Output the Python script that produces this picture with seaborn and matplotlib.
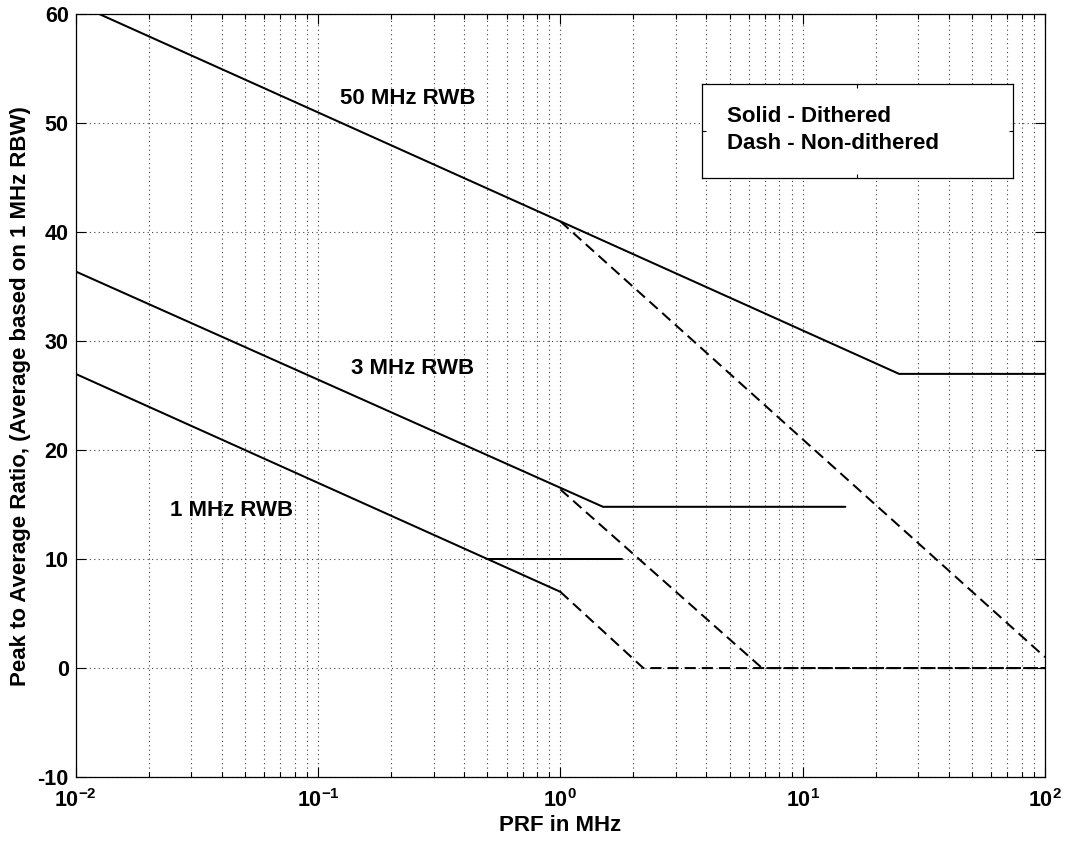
import matplotlib
matplotlib.use("Agg")
import matplotlib.pyplot as plt
import seaborn as sns
import numpy as np
from matplotlib.ticker import FixedLocator, FixedFormatter, LogLocator, NullFormatter

# ---- data ----
x50_solid = [0.01, 1.0, 25.0, 100.0]
y50_solid = [61.0, 41.0, 27.0, 27.0]
x50_dash = [1.0, 100.0]
y50_dash = [41.0, 1.0]

x3_solid = [0.01, 1.5, 15.0]
y3_solid = [36.4, 14.8, 14.8]
x3_dash = [1.0, 6.8, 100.0]
y3_dash = [16.4, 0.0, 0.0]

x1_solid = [0.01, 1.0]
y1_solid = [27.0, 7.0]
x1_flat = [0.5, 1.8]
y1_flat = [10.0, 10.0]
x1_dash = [1.0, 2.2, 100.0]
y1_dash = [7.0, 0.0, 0.0]

xticks = [0.01, 0.1, 1, 10, 100]
xtick_labels = [r"$\mathbf{10^{-2}}$", r"$\mathbf{10^{-1}}$", r"$\mathbf{10^{0}}$",
                r"$\mathbf{10^{1}}$", r"$\mathbf{10^{2}}$"]
yticks = [-10, 0, 10, 20, 30, 40, 50, 60]

labels = ["50 MHz RWB", "3 MHz RWB", "1 MHz RWB"]
label_pos = [(0.123, 52.3), (0.137, 27.5), (0.0244, 14.5)]
legend_lines = ["Solid - Dithered", "Dash - Non-dithered"]

# ---- style ----
sns.set_theme(style="ticks")
plt.rcParams["font.family"] = ["Liberation Sans", "DejaVu Sans"]
plt.rcParams["font.weight"] = "bold"
plt.rcParams["text.color"] = "black"
plt.rcParams["axes.labelcolor"] = "black"
plt.rcParams["xtick.color"] = "black"
plt.rcParams["ytick.color"] = "black"
plt.rcParams["mathtext.fontset"] = "custom"
plt.rcParams["mathtext.rm"] = "Liberation Sans"
plt.rcParams["mathtext.bf"] = "Liberation Sans:bold"

fig = plt.figure(figsize=(10.67, 8.48), dpi=100)
ax = fig.add_axes([0.0709, 0.0837, 0.9794 - 0.0709, 0.9831 - 0.0837])
ax.set_xscale("log")

lw = 1.45
dash = (0, (5.5, 3.0))
for xs, ys, ls in [
    (x50_solid, y50_solid, "-"), (x50_dash, y50_dash, dash),
    (x3_solid, y3_solid, "-"), (x3_dash, y3_dash, dash),
    (x1_solid, y1_solid, "-"), (x1_flat, y1_flat, "-"), (x1_dash, y1_dash, dash),
]:
    sns.lineplot(x=xs, y=ys, ax=ax, color="black", linewidth=lw,
                 linestyle=ls, sort=False, estimator=None, legend=False)

ax.set_xlim(0.01, 100)
ax.set_ylim(-10, 60)

ax.xaxis.set_major_locator(FixedLocator(xticks))
ax.xaxis.set_major_formatter(FixedFormatter(xtick_labels))
ax.xaxis.set_minor_locator(LogLocator(base=10, subs=np.arange(2, 10)))
ax.xaxis.set_minor_formatter(NullFormatter())
ax.set_yticks(yticks)
ax.set_yticklabels([str(v) for v in yticks])

grid_style = dict(color="0.25", linestyle=(0, (1, 3)), linewidth=0.8)
ax.grid(True, which="major", axis="both", **grid_style)
ax.grid(True, which="minor", axis="x", **grid_style)
ax.set_axisbelow(True)

ax.tick_params(which="both", direction="in", top=True, right=True,
               colors="black", width=0.8)
ax.tick_params(which="major", length=7)
ax.tick_params(which="minor", length=3.6)
ax.tick_params(axis="x", which="major", labelsize=15.5, pad=9)
ax.tick_params(axis="y", which="major", labelsize=15.5, pad=5)
for lab in ax.get_yticklabels():
    lab.set_fontweight("bold")

for sp in ax.spines.values():
    sp.set_visible(True)
    sp.set_color("black")
    sp.set_linewidth(0.9)

ax.set_xlabel("PRF in MHz", fontsize=16, fontweight="bold", labelpad=2, color="black")
ax.set_ylabel("Peak to Average Ratio, (Average based on 1 MHz RBW)",
              fontsize=16, fontweight="bold", labelpad=5, color="black")

for txt, (tx, ty) in zip(labels, label_pos):
    ax.text(tx, ty, txt, fontsize=16, fontweight="bold", ha="left", va="center",
            color="black")

# legend box (MATLAB-style legend axes)
lax = ax.inset_axes([0.6458, 0.7858, 0.3212, 0.1224])
lax.set_facecolor("white")
lax.set_xlim(0, 1)
lax.set_ylim(0, 1)
lax.set_xticks([0.5])
lax.set_yticks([0.5])
lax.tick_params(which="both", direction="in", top=True, right=True,
                labelbottom=False, labelleft=False, length=3, width=0.8, colors="black")
for sp in lax.spines.values():
    sp.set_visible(True)
    sp.set_color("black")
    sp.set_linewidth(0.9)
lax.text(0.08, 0.66, legend_lines[0], fontsize=16, fontweight="bold", ha="left",
         va="center", color="black")
lax.text(0.08, 0.37, legend_lines[1], fontsize=16, fontweight="bold", ha="left",
         va="center", color="black")
lax.grid(False)

fig.savefig("out.png", dpi=100, facecolor="white")
